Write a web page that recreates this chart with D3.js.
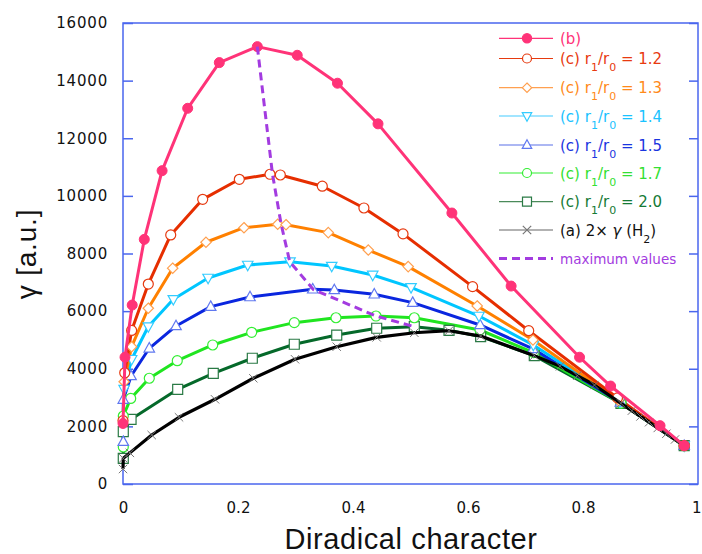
<!DOCTYPE html>
<html><head><meta charset="utf-8">
<script src="https://cdn.jsdelivr.net/npm/d3@7"></script>
<style>body{margin:0;background:#fff}</style>
</head><body><svg id="c" width="702" height="554"></svg>
<script>
const yTicks=[0,2000,4000,6000,8000,10000,12000,14000,16000];
const xTicks=[0,0.2,0.4,0.6,0.8,1];
const xTickLabels=["0","0.2","0.4","0.6","0.8","1"];

const dataB=[[0,2100],[0.0035,4400],[0.016,6210],[0.037,8490],[0.068,10875],[0.1125,13040],[0.1675,14625],[0.2336,15180],[0.303,14880],[0.373,13910],[0.4435,12500],[0.572,9405],[0.675,6870],[0.794,4400],[0.848,3400],[0.934,2025],[0.976,1330]];
const dataC12=[[0,2200],[0.003,3860],[0.015,5330],[0.044,6940],[0.083,8645],[0.1386,9880],[0.2023,10575],[0.2557,10750],[0.2736,10725],[0.3466,10335],[0.419,9580],[0.487,8680],[0.608,6850],[0.7056,5320],[0.86,2990],[0.976,1330]];
const dataC13=[[0.002,3550],[0.015,4765],[0.044,6100],[0.0864,7490],[0.1443,8390],[0.2104,8895],[0.269,9015],[0.2835,9000],[0.357,8725],[0.4266,8120],[0.496,7545],[0.616,6180],[0.713,5000],[0.862,2900],[0.976,1330]];
const dataC14=[[0.002,3290],[0.015,4330],[0.044,5465],[0.0875,6410],[0.148,7150],[0.2169,7600],[0.2904,7715],[0.363,7565],[0.4343,7255],[0.5009,6825],[0.619,5830],[0.7136,4825],[0.864,2860],[0.976,1330]];
const dataC15=[[0.0005,1470],[0.0005,2930],[0.014,3750],[0.0457,4710],[0.0922,5485],[0.1525,6155],[0.2209,6490],[0.33,6760],[0.3675,6735],[0.437,6585],[0.5038,6295],[0.621,5520],[0.713,4690],[0.865,2830],[0.976,1330]];
const dataC17=[[0.0005,1285],[0.0005,2360],[0.0134,2970],[0.0457,3670],[0.0944,4280],[0.156,4825],[0.2238,5265],[0.2979,5600],[0.3704,5770],[0.44,5830],[0.5066,5770],[0.6209,5345],[0.714,4560],[0.866,2805],[0.976,1330]];
const dataC20=[[0.0005,890],[0.0005,1815],[0.014,2245],[0.0951,3285],[0.157,3840],[0.2249,4365],[0.2979,4850],[0.3717,5170],[0.4412,5405],[0.5066,5460],[0.567,5335],[0.622,5115],[0.7153,4455],[0.866,2800],[0.976,1330]];
const dataA=[[0,520],[0.0005,890],[0.012,1080],[0.0499,1700],[0.0974,2315],[0.16,2940],[0.2266,3670],[0.2991,4330],[0.3717,4765],[0.4412,5090],[0.5066,5250],[0.567,5320],[0.622,5135],[0.7153,4455],[0.76,4085],[0.79,3760],[0.82,3435],[0.866,2800],[0.885,2545],[0.9,2345],[0.915,2145],[0.93,1945],[0.945,1745],[0.96,1545],[0.976,1330]];
const dataMax=[[0.2336,15180],[0.26,10750],[0.275,9020],[0.29,7715],[0.331,6750],[0.44,5830],[0.5066,5460]];

const svg=d3.select("#c");
const L=123,R=698,T=23,B=484;
const x=d3.scaleLinear().domain([0,1]).range([L,R]);
const y=d3.scaleLinear().domain([0,16000]).range([B,T]);
const FONT="DejaVu Sans, sans-serif";
const axisColor="#4a66ee";

// frame
svg.append("rect").attr("x",L).attr("y",T).attr("width",R-L).attr("height",B-T)
  .attr("fill","none").attr("stroke",axisColor).attr("stroke-width",1.5);

// y axis ticks (inward, both sides)
const yAxL=d3.axisLeft(y).tickValues(yTicks).tickSize(-10).tickPadding(15).tickFormat(d3.format("d"));
const gl=svg.append("g").attr("transform",`translate(${L},0)`).call(yAxL);
gl.select(".domain").remove();
gl.selectAll("line").attr("stroke",axisColor).attr("stroke-width",1.5);
gl.selectAll("text").attr("font-family",FONT).attr("font-size",15).attr("letter-spacing",0.8).attr("fill","#111");
const yAxR=d3.axisRight(y).tickValues(yTicks).tickSize(-9).tickFormat("");
const gr=svg.append("g").attr("transform",`translate(${R},0)`).call(yAxR);
gr.select(".domain").remove();
gr.selectAll("line").attr("stroke",axisColor).attr("stroke-width",1.5);

// x axis labels (no ticks)
const xAx=d3.axisBottom(x).tickValues(xTicks).tickSize(0).tickPadding(18).tickFormat((d,i)=>xTickLabels[i]);
const gx=svg.append("g").attr("transform",`translate(0,${B})`).call(xAx);
gx.select(".domain").remove();
gx.selectAll("text").attr("font-family",FONT).attr("font-size",15).attr("fill","#111");
gx.selectAll(".tick").filter(d=>d===1).select("text").attr("text-anchor","end").attr("x",3);

// titles
svg.append("text").attr("x",411).attr("y",549).attr("text-anchor","middle")
  .attr("font-family","Liberation Sans, sans-serif").attr("font-size",29).attr("letter-spacing",0.6).attr("fill","#111").text("Diradical character");
svg.append("text").attr("transform","translate(36,254) rotate(-90)").attr("text-anchor","middle")
  .attr("font-family","Liberation Sans, sans-serif").attr("font-size",28).attr("letter-spacing",0.8).attr("fill","#111").text("γ [a.u.]");

// marker paths
function markerPath(type,r){
  switch(type){
    case "diamond": return `M0,${-r}L${r},0L0,${r}L${-r},0Z`;
    case "triUp": return `M0,${-r*1.15}L${r*1.05},${r*0.75}L${-r*1.05},${r*0.75}Z`;
    case "triDown": return `M0,${r*1.15}L${r*1.05},${-r*0.75}L${-r*1.05},${-r*0.75}Z`;
    case "square": return `M${-r},${-r}H${r}V${r}H${-r}Z`;
    case "x": return `M${-r},${-r}L${r},${r}M${-r},${r}L${r},${-r}`;
  }
}
function drawMarker(g,type,cx,cy,fill,stroke,r,sw){
  if(type==="circle"||type==="dot"){
    g.append("circle").attr("cx",cx).attr("cy",cy).attr("r",r).attr("fill",fill).attr("stroke",stroke).attr("stroke-width",sw);
  } else {
    g.append("path").attr("transform",`translate(${cx},${cy})`).attr("d",markerPath(type,r))
      .attr("fill",type==="x"?"none":fill).attr("stroke",stroke).attr("stroke-width",sw);
  }
}

const series=[
  {data:dataC20,line:"#05692a",mk:"square",mfill:"#fff",mstroke:"#2a7a45",r:5,text:"#157a35",sub:["1","0"],val:"2.0",ly:201.7,llegend:"#4a8a5a"},
  {data:dataC17,line:"#20e520",mk:"circle",mfill:"#fff",mstroke:"#33ee33",r:5,text:"#33e033",sub:["1","0"],val:"1.7",ly:173,llegend:"#33ee33"},
  {data:dataC15,line:"#0a26df",mk:"triUp",mfill:"#fff",mstroke:"#6078f0",r:5,text:"#1a35e0",sub:["1","0"],val:"1.5",ly:145,llegend:"#5a70e8"},
  {data:dataC14,line:"#00c6ff",mk:"triDown",mfill:"#fff",mstroke:"#33ccff",r:5,text:"#1ac2ff",sub:["1","0"],val:"1.4",ly:116,llegend:"#44ccff"},
  {data:dataC13,line:"#ff8000",mk:"diamond",mfill:"#fff",mstroke:"#ffa050",r:5.2,text:"#ff8a1a",sub:["1","0"],val:"1.3",ly:87.7,llegend:"#ffa050"},
  {data:dataC12,line:"#e62e00",mk:"circle",mfill:"#fff",mstroke:"#e63a10",r:5,text:"#e83a10",sub:["1","0"],val:"1.2",ly:58.5,llegend:"#e63a10"},
];
const line=d3.line().x(d=>x(d[0])).y(d=>y(d[1]));

series.forEach(s=>{
  svg.append("path").attr("d",line(s.data)).attr("fill","none").attr("stroke",s.line).attr("stroke-width",3).attr("stroke-linejoin","round");
});
series.forEach(s=>{
  const g=svg.append("g");
  s.data.forEach(d=>drawMarker(g,s.mk,x(d[0]),y(d[1]),s.mfill,s.mstroke,s.r,1.2));
});
// (a) black
svg.append("path").attr("d",line(dataA)).attr("fill","none").attr("stroke","#000").attr("stroke-width",3.2).attr("stroke-linejoin","round");
const ga=svg.append("g");
dataA.forEach(d=>drawMarker(ga,"x",x(d[0]),y(d[1]),"none","#777",4.2,1));
// (b) pink
svg.append("path").attr("d",line(dataB)).attr("fill","none").attr("stroke","#ff3378").attr("stroke-width",3).attr("stroke-linejoin","round");
const gb=svg.append("g");
dataB.forEach(d=>drawMarker(gb,"dot",x(d[0]),y(d[1]),"#ff3378","#ff3378",5,1));
// maximum values
svg.append("path").attr("d",line(dataMax)).attr("fill","none").attr("stroke","#a33be0").attr("stroke-width",3).attr("stroke-dasharray","8,5");

// legend
const lx1=499,lx2=553,lmx=527,ltx=560;
const lg=svg.append("g");
function legendRow(yy,lcol,mk,mfill,mstroke,r){
  lg.append("line").attr("x1",lx1).attr("x2",lx2).attr("y1",yy).attr("y2",yy).attr("stroke",lcol).attr("stroke-width",1.2);
  drawMarker(lg,mk,lmx,yy,mfill,mstroke,r,1.2);
}
legendRow(38.3,"#ff3378","dot","#ff3378","#ff3378",4.6);
lg.append("text").attr("x",ltx).attr("y",38.3+5.5).attr("font-family",FONT).attr("font-size",15).attr("fill","#ff3378").text("(b)");
series.slice().reverse().forEach(s=>{
  legendRow(s.ly,s.llegend,s.mk,"#fff",s.mstroke,s.r*0.9);
  const t=lg.append("text").attr("x",ltx).attr("y",s.ly+5.5).attr("font-family",FONT).attr("font-size",15).attr("fill",s.text);
  t.append("tspan").text("(c) r");
  t.append("tspan").attr("dy",7).attr("font-size",11).text(s.sub[0]);
  t.append("tspan").attr("dy",-7).text("/r");
  t.append("tspan").attr("dy",7).attr("font-size",11).text(s.sub[1]);
  t.append("tspan").attr("dy",-7).text(" = "+s.val);
});
legendRow(230,"#666","x","none","#777",4.2);
{
  const t=lg.append("text").attr("x",ltx).attr("y",230+5.5).attr("font-family",FONT).attr("font-size",15).attr("fill","#111");
  t.append("tspan").text("(a) 2× ");
  t.append("tspan").attr("font-style","italic").text("γ");
  t.append("tspan").text(" (H");
  t.append("tspan").attr("dy",7).attr("font-size",11).text("2");
  t.append("tspan").attr("dy",-7).text(")");
}
lg.append("line").attr("x1",lx1).attr("x2",lx2).attr("y1",258.5).attr("y2",258.5).attr("stroke","#a33be0").attr("stroke-width",3).attr("stroke-dasharray","8,5");
lg.append("text").attr("x",ltx).attr("y",258.5+5).attr("font-family",FONT).attr("font-size",13.5).attr("fill","#a33be0").text("maximum values");
</script></body></html>
